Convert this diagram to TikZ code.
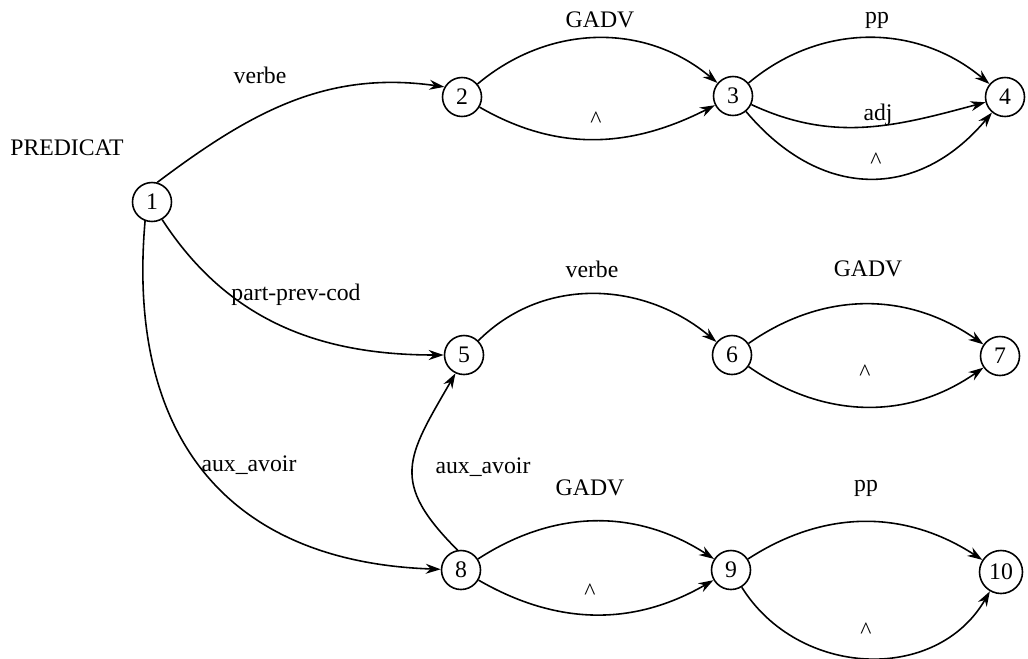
\documentclass[tikz,border=0pt]{standalone}
\usepackage{fontspec}
\setmainfont{Liberation Serif}
\usetikzlibrary{arrows.meta}

\begin{document}
\begin{tikzpicture}[
  every node/.style={font=\fontsize{13.5}{16}\selectfont},
  st/.style={draw, circle, line width=0.9pt, minimum size=0.78cm, inner sep=0pt},
  tr/.style={line width=0.9pt, -{Stealth[length=3mm, width=2mm]}},
  lbl/.style={inner sep=1pt},
]
  \useasboundingbox (0,0) rectangle (20.56,-13.16);

  % States
  \node[st] (s1) at (3.04,-4.04) {1};
  \node[st] (s2) at (9.24,-1.94) {2};
  \node[st] (s3) at (14.66,-1.92) {3};
  \node[st] (s4) at (20.10,-1.94) {4};
  \node[st] (s5) at (9.28,-7.10) {5};
  \node[st] (s6) at (14.64,-7.10) {6};
  \node[st] (s7) at (20.00,-7.12) {7};
  \node[st] (s8) at (9.22,-11.40) {8};
  \node[st] (s9) at (14.62,-11.40) {9};
  \node[st, minimum size=0.86cm] (s10) at (20.02,-11.44) {10};

  \node[lbl] (title) at (1.34,-2.96) {PREDICAT};

  % From state 1
  \draw[tr] (s1.75) to[out=37, in=172] (s2.150);
  \draw[tr] (s1.-60) to[out=-57, in=180] (s5);
  \draw[tr] (s1.-110) to[out=-95, in=178, looseness=1.2] (s8);
  \node[lbl] (l12) at (5.20,-1.50) {verbe};
  \node[lbl] (l15) at (5.92,-5.90) {part-prev-cod};
  \node[lbl] (l18) at (4.98,-9.30) {aux\_avoir};

  % Upper branch
  \draw[tr] (s2) to[out=40, in=140] (s3);
  \draw[tr] (s2) to[out=-30, in=-153] (s3);
  \draw[tr] (s3) to[out=40, in=140] (s4);
  \draw[tr] (s3) to[out=-25, in=-165] (s4);
  \draw[tr] (s3) to[out=-50, in=-130, looseness=1.2] (s4);
  \node[lbl] (l23a) at (12.00,-0.40) {GADV};
  \node[lbl] (l23b) at (11.92,-2.40) {\textasciicircum};
  \node[lbl] (l34a) at (17.54,-0.40) {pp};
  \node[lbl] (l34b) at (17.56,-2.30) {adj};
  \node[lbl] (l34c) at (17.52,-3.22) {\textasciicircum};

  % Middle branch
  \draw[tr] (s5) to[out=45, in=140] (s6);
  \draw[tr] (s6) to[out=35, in=145] (s7);
  \draw[tr] (s6) to[out=-35, in=-145] (s7);
  \node[lbl] (l56) at (11.84,-5.38) {verbe};
  \node[lbl] (l67a) at (17.36,-5.38) {GADV};
  \node[lbl] (l67b) at (17.30,-7.46) {\textasciicircum};

  % Lower branch
  \draw[tr] (s8.100) to[out=135, in=-120, looseness=1.4] (s5.-115);
  \draw[tr] (s8) to[out=33, in=147] (s9);
  \draw[tr] (s8) to[out=-30, in=-150] (s9);
  \draw[tr] (s9) to[out=33, in=147] (s10);
  \draw[tr] (s9) to[out=-58, in=-120, looseness=1.1] (s10);
  \node[lbl] (l85) at (9.66,-9.34) {aux\_avoir};
  \node[lbl] (l89a) at (11.80,-9.76) {GADV};
  \node[lbl] (l89b) at (11.80,-11.84) {\textasciicircum};
  \node[lbl] (l910a) at (17.32,-9.76) {pp};
  \node[lbl] (l910b) at (17.32,-12.62) {\textasciicircum};
\end{tikzpicture}
\end{document}
